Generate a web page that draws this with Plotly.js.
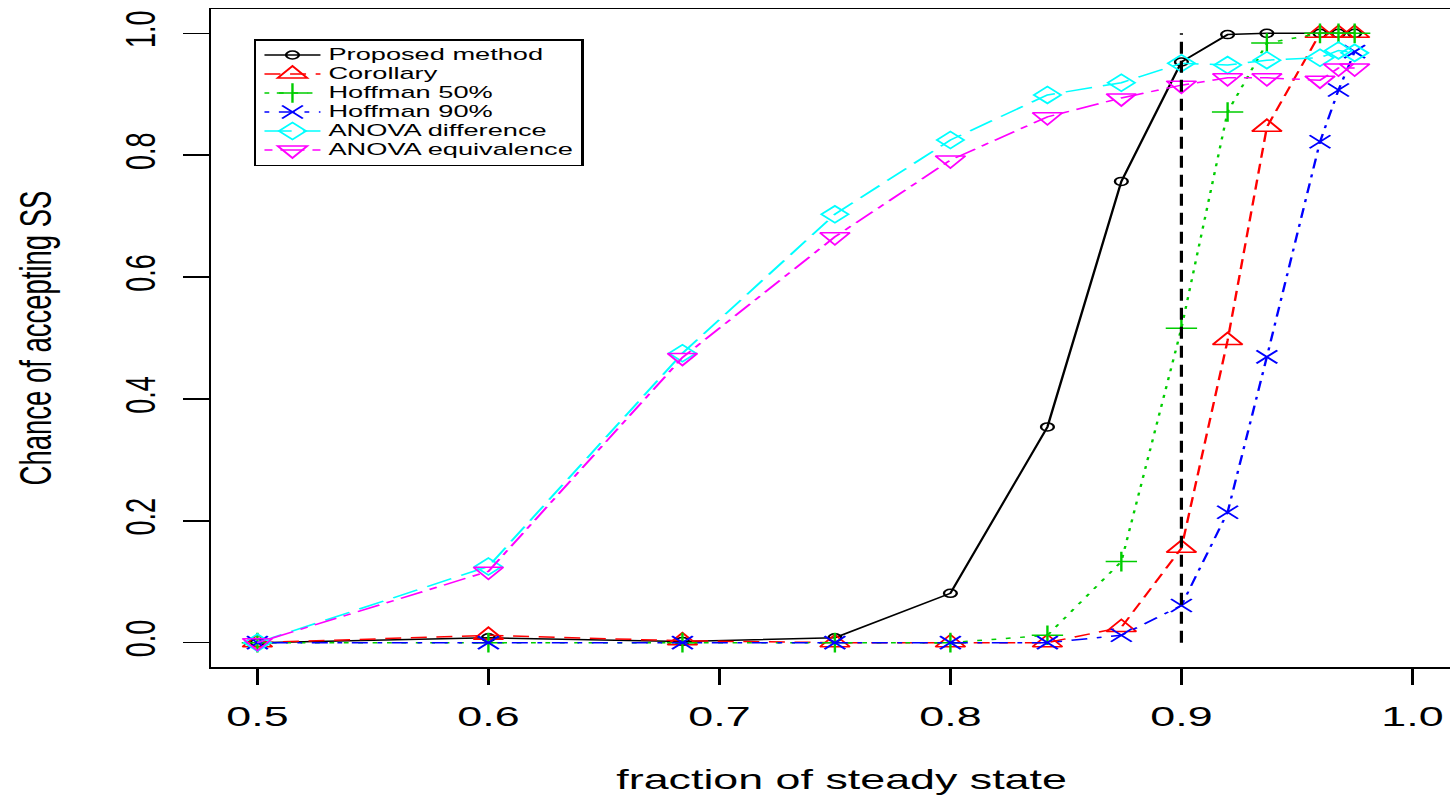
<!DOCTYPE html>
<html>
<head>
<meta charset="utf-8">
<script src="https://cdn.plot.ly/plotly-3.0.1.min.js"></script>
<style>
  html, body { margin: 0; padding: 0; background: #ffffff; overflow: hidden; }
  #wrap { position: relative; width: 1450px; height: 795px; overflow: hidden; }
  #chart { width: 920px; height: 795px; transform: scaleX(1.6); transform-origin: 0 0; }
  #edge { position: absolute; left: 1445px; top: 12px; width: 5px; height: 652px; background: #ffffff; z-index: 10; }
</style>
</head>
<body>
<div id="wrap"><div id="chart"></div><div id="edge"></div></div>
<script>
// ---- data ----
var fraction = [0.5, 0.6, 0.684, 0.75, 0.8, 0.842, 0.874, 0.9, 0.92, 0.937, 0.96, 0.968, 0.975];
var proposedMethod    = [0, 0.008, 0.002, 0.008, 0.081, 0.354, 0.757, 0.953, 0.998, 1.0, 1.0, 1.0, 1.0];
var corollary         = [0, 0.012, 0.003, 0, 0, 0, 0.025, 0.155, 0.496, 0.846, 1.0, 1.0, 1.0];
var hoffman50         = [0, 0, 0, 0, 0, 0.012, 0.133, 0.516, 0.871, 0.984, 1.0, 1.0, 1.0];
var hoffman90         = [0, 0, 0, 0, 0, 0, 0.012, 0.061, 0.214, 0.469, 0.822, 0.907, 0.97];
var anovaDifference   = [0, 0.125, 0.475, 0.703, 0.825, 0.899, 0.919, 0.951, 0.948, 0.956, 0.96, 0.972, 0.968];
var anovaEquivalence  = [0, 0.117, 0.468, 0.666, 0.792, 0.863, 0.894, 0.915, 0.927, 0.927, 0.923, 0.943, 0.943];
var seriesNames = ["Proposed method", "Corollary", "Hoffman 50%", "Hoffman 90%", "ANOVA difference", "ANOVA equivalence"];
var steadyStateMark = 0.9;
var xTickVals = [0.5, 0.6, 0.7, 0.8, 0.9, 1.0];
var yTickVals = [0, 0.2, 0.4, 0.6, 0.8, 1.0];
var xTitle = "fraction of steady state";
var yTitle = "Chance of accepting SS";

var FONT = "Liberation Sans, Arial, sans-serif";

function legendLabel(name) {
  return '<span style="font-size:17px">' + name + '</span>';
}

function mk(y, name, color, dash, symbol, size) {
  return {
    type: "scatter", mode: "lines+markers", x: fraction, y: y, name: legendLabel(name),
    line: { color: color, width: 1.5, dash: dash },
    marker: { symbol: symbol, size: size, color: color, line: { color: color, width: 1.5 } }
  };
}

var traces = [
  mk(proposedMethod,   seriesNames[0], "#000000", "solid",            "circle-open",        8),
  mk(corollary,        seriesNames[1], "#FF0000", "10px,6px",         "triangle-up-open",   16),
  mk(hoffman50,        seriesNames[2], "#00CD00", "3px,6px",          "cross-thin-open",    14),
  mk(hoffman90,        seriesNames[3], "#0000FF", "3px,6px,10px,6px", "x-thin-open",        13),
  mk(anovaDifference,  seriesNames[4], "#00FFFF", "17px,7px",         "diamond-open",       13),
  mk(anovaEquivalence, seriesNames[5], "#FF00FF", "5px,5px,15px,5px", "triangle-down-open", 16)
];

var layout = {
  width: 920, height: 795,
  margin: { l: 132, r: 0, t: 9, b: 128, pad: 0 },
  paper_bgcolor: "#ffffff", plot_bgcolor: "#ffffff",
  font: { family: FONT, size: 28, color: "#000000" },
  showlegend: true,
  legend: {
    x: 0.034, y: 0.9544, xanchor: "left", yanchor: "top",
    bgcolor: "#ffffff", bordercolor: "#000000", borderwidth: 1.5,
    font: { family: FONT, size: 12, color: "#000000" },
    itemwidth: 35, tracegroupgap: 0
  },
  xaxis: {
    range: [0.48, 1.0258], tickmode: "array", tickvals: xTickVals, tickformat: ".1f",
    showgrid: false, zeroline: false, showline: true, mirror: true,
    linecolor: "#000000", linewidth: 1.5,
    ticks: "outside", ticklen: 16, tickwidth: 1.5, tickcolor: "#000000",
    ticklabelstandoff: 8,
    tickfont: { family: FONT, size: 28, color: "#000000" },
    title: { text: xTitle, font: { family: FONT, size: 28, color: "#000000" }, standoff: 38 }
  },
  yaxis: {
    range: [-0.04, 1.04], tickmode: "array", tickvals: yTickVals, tickformat: ".1f",
    showgrid: false, zeroline: false, showline: true, mirror: false,
    linecolor: "#000000", linewidth: 1.5,
    ticks: "outside", ticklen: 16, tickwidth: 1.5, tickcolor: "#000000",
    tickangle: -90, ticklabelstandoff: 7,
    tickfont: { family: FONT, size: 27, color: "#000000" },
    title: { text: yTitle, font: { family: FONT, size: 27.5, color: "#000000" }, standoff: 32 }
  },
  shapes: [{
    type: "line", xref: "x", yref: "y", layer: "above",
    x0: steadyStateMark, x1: steadyStateMark, y0: 0, y1: 1,
    line: { color: "#000000", width: 2, dash: "12px,7px" }
  }]
};

Plotly.newPlot("chart", traces, layout, { displayModeBar: false, staticPlot: true });
</script>
</body>
</html>
